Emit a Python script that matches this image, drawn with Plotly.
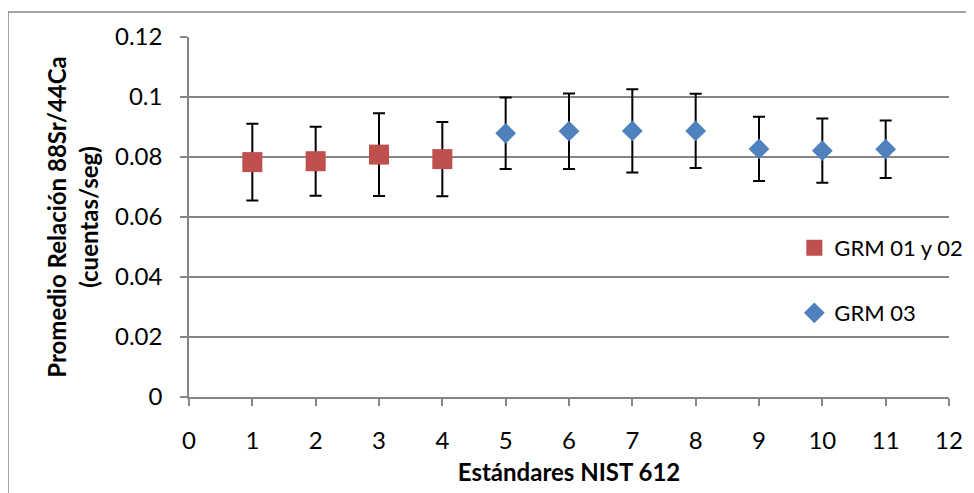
import plotly.graph_objects as go

x_grm0102 = [1, 2, 3, 4]
y_grm0102 = [0.0783, 0.0786, 0.0808, 0.0793]
e_grm0102 = [0.0128, 0.0115, 0.0138, 0.0124]

x_grm03 = [5, 6, 7, 8, 9, 10, 11]
y_grm03 = [0.0879, 0.0886, 0.0887, 0.0887, 0.0827, 0.0821, 0.0826]
e_grm03 = [0.0119, 0.0126, 0.0139, 0.0124, 0.0107, 0.0107, 0.0096]

x_ticks = list(range(0, 13))
y_ticks = [0, 0.02, 0.04, 0.06, 0.08, 0.1, 0.12]
y_tick_labels = ["0", "0.02", "0.04", "0.06", "0.08", "0.1", "0.12"]

FONT = "Lato"
err_style = dict(type="data", visible=True, color="black", thickness=2, width=6)

# page body has an 8px margin, so the figure is offset by 8px
W, H = 966, 485
L, R, T, B = 181, 25, 29, 96
pw, ph = W - L - R, H - T - B

fig = go.Figure()
fig.add_trace(go.Scatter(
    x=x_grm0102, y=y_grm0102, mode="markers", name="GRM 01 y 02",
    legend="legend",
    marker=dict(symbol="square", size=20, color="#C0504D"),
    error_y=dict(array=e_grm0102, **err_style),
))
fig.add_trace(go.Scatter(
    x=x_grm03, y=y_grm03, mode="markers", name="GRM 03",
    legend="legend2",
    marker=dict(symbol="diamond", size=16, color="#4F81BD"),
    error_y=dict(array=e_grm03, **err_style),
))

leg_common = dict(xanchor="left", yanchor="middle",
                  font=dict(family=FONT, size=22, color="black"),
                  bgcolor="rgba(0,0,0,0)", itemwidth=30)
fig.update_layout(
    width=W, height=H,
    margin=dict(l=L, r=R, t=T, b=B, pad=0, autoexpand=False),
    paper_bgcolor="white", plot_bgcolor="white",
    font=dict(family=FONT, size=24, color="black"),
    showlegend=True,
    legend=dict(x=0.7965, y=(ph - (248 - 8 - T)) / ph, **leg_common),
    legend2=dict(x=0.7965, y=(ph - (313 - 8 - T)) / ph, **leg_common),
    shapes=[dict(type="rect", xref="paper", yref="paper",
                 x0=-L / pw, x1=1.2, y0=-0.5, y1=(ph + T - 4) / ph,
                 line=dict(color="#868686", width=1.5), layer="below")],
)
fig.update_xaxes(
    range=[0, 12], tickvals=x_ticks, showgrid=False, zeroline=False,
    showline=True, linecolor="#868686", linewidth=1.5,
    ticks="outside", ticklen=7, tickcolor="#868686", tickwidth=1.5,
    ticklabelstandoff=14,
    tickfont=dict(family=FONT, size=24, color="black"),
    title=dict(text="<b>Estándares NIST 612</b>", standoff=12,
               font=dict(family=FONT, size=24, color="black")),
)
fig.update_yaxes(
    range=[0, 0.12], tickvals=y_ticks, ticktext=y_tick_labels,
    showgrid=True, gridcolor="#868686", gridwidth=1.5, zeroline=False,
    showline=True, linecolor="#868686", linewidth=1.5,
    ticks="outside", ticklen=7, tickcolor="#868686", tickwidth=1.5,
    ticklabelstandoff=13,
    tickfont=dict(family=FONT, size=24, color="black"),
    title=dict(text="<b>Promedio Relación 88Sr/44Ca<br>(cuentas/seg)</b>", standoff=10,
               font=dict(family=FONT, size=24, color="black")),
)
fig.write_html("out.html")
